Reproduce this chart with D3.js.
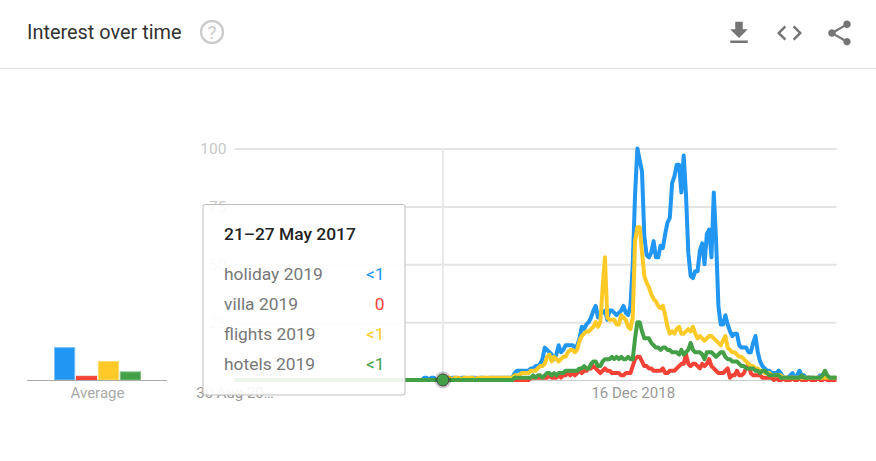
<!DOCTYPE html>
<html><head><meta charset="utf-8">
<script src="https://cdn.jsdelivr.net/npm/d3@7/dist/d3.min.js"></script>
<style>html,body{margin:0;padding:0;background:#fff}svg{display:block;font-family:Roboto,sans-serif}</style>
</head><body><svg id="c" width="876" height="461"></svg>
<script>
const seriesNames = ["holiday 2019","villa 2019","flights 2019","hotels 2019"];
const seriesColors = ["#2196f3","#f44336","#ffca28","#43a047"];
const avgBorders = ["#7cc0f8","#f44336","#ffdc70","#7fc083"];
const tooltipValues = ["<1","0","<1","<1"];
const averages = [14,1.6,8,3.5];
const yTicks = [0,25,50,75,100];
const xTickLabels = ["30 Aug 20…","16 Dec 2018"];
const xTickDates = [new Date(Date.UTC(2015,7,30)),new Date(Date.UTC(2018,11,16))];
const firstWeek = new Date(Date.UTC(2015,7,30));
const hoverWeek = new Date(Date.UTC(2017,4,21));

const holiday = [
0,0,0,0,0,0,0,0,0,0, 0,0,0,0,0,0,0,0,0,0, 0,0,0,0,0,0,0,0,0,0, 0,0,0,0,0,0,0,0,0,0,
0,0,0,0,0,0,0,0,0,0, 0,0,0,0,0,0,0,0,0,0, 0,0,0,0,0,0,0,0,0,0, 0,0,0,0,0,0,0,0,0,0,
0,0,1,1,0,1,1,0,0,0,
1,1,1,0,1,1,1,0,1,1,
1,0,1,1,1,0,1,1,1,0,
1,1,1,1,1,1,1,1,1,1,
1,3,4,4,4,4,4,4,5,5,
6,6,7,9,14,13,12,11,9,11,
15,12,13,15,15,15,15,14,15,18,
23,22,24,25,27,30,32,27,29,29,
30,26,30,30,29,28,29,30,32,29,
28,32,50,80,100,95,90,62,54,53,
55,60,53,53,58,57,63,68,70,85,
88,93,93,81,97,80,55,45,44,47,
47,56,59,50,63,65,53,81,60,32,
24,24,28,24,21,19,20,20,15,14,
14,14,12,12,16,19,12,8,6,5,
4,4,3,3,3,4,3,1,1,1,
2,3,1,2,4,2,2,1,1,1,
1,0,1,2,2,3,2,1,1,1,1];

const villa = [
0,0,0,0,0,0,0,0,0,0, 0,0,0,0,0,0,0,0,0,0, 0,0,0,0,0,0,0,0,0,0, 0,0,0,0,0,0,0,0,0,0,
0,0,0,0,0,0,0,0,0,0, 0,0,0,0,0,0,0,0,0,0, 0,0,0,0,0,0,0,0,0,0, 0,0,0,0,0,0,0,0,0,0,
0,0,0,0,0,0,0,0,0,0,
0,0,0,0,0,0,0,0,0,0,
0,0,0,0,0,0,0,0,0,0,
0,0,0,0,0,0,0,0,0,0,
0,0,0,0,0,0,0,0,1,1,
1,1,1,1,1,1,2,1,1,1,
2,1,2,2,3,2,3,2,3,4,
3,4,4,5,5,6,5,4,3,4,
5,4,4,3,3,3,3,2,2,3,
3,3,6,9,10,10,8,6,6,5,
5,4,4,4,4,5,3,3,4,4,
4,5,6,7,7,11,7,6,7,7,
6,5,7,6,7,9,6,5,4,3,
3,3,4,5,1,2,2,4,2,2,
3,5,7,3,2,2,2,2,1,1,
1,1,1,0,1,0,0,1,0,0,
0,1,0,0,1,0,0,0,1,0,
0,0,1,0,0,1,0,0,0,0,0];

const flights = [
0,0,0,0,0,0,0,0,0,0, 0,0,0,0,0,0,0,0,0,0, 0,0,0,0,0,0,0,0,0,0, 0,0,0,0,0,0,0,0,0,0,
0,0,0,0,0,0,0,0,0,0, 0,0,0,0,0,0,0,0,0,0, 0,0,0,0,0,0,0,0,0,0, 0,0,0,0,0,0,0,0,0,0,
0,0,0,0,0,0,0,0,0,0,
0,0,1,1,0,1,1,1,0,1,
1,1,1,1,0,1,1,1,1,1,
1,1,1,1,1,1,1,1,1,1,
1,2,2,2,3,3,3,3,4,4,
4,5,6,6,7,10,11,8,10,9,
8,9,10,10,12,13,13,12,13,17,
19,20,21,21,22,23,25,23,25,40,
53,27,26,26,26,24,24,28,27,26,
23,22,27,60,66,66,55,45,42,40,
37,35,34,32,31,32,28,23,20,21,
20,22,23,20,20,21,22,21,23,20,
18,19,18,17,18,19,19,18,17,16,
15,17,19,14,13,12,12,11,10,10,
9,8,7,6,6,5,5,4,4,3,
3,3,2,2,2,2,2,1,1,1,
1,1,1,1,1,1,1,1,1,1,
1,1,1,1,1,1,1,1,1,1,1];

const hotels = [
0,0,0,0,0,0,0,0,0,0, 0,0,0,0,0,0,0,0,0,0, 0,0,0,0,0,0,0,0,0,0, 0,0,0,0,0,0,0,0,0,0,
0,0,0,0,0,0,0,0,0,0, 0,0,0,0,0,0,0,0,0,0, 0,0,0,0,0,0,0,0,0,0, 0,0,0,0,0,0,0,0,0,0,
0,0,0,0,0,0,0,0,0,0,
0,0,0,0,0,0,0,0,0,0,
0,0,0,0,0,0,0,0,0,0,
0,0,0,0,0,0,0,0,0,0,
0,1,1,1,1,1,1,1,1,2,
1,2,2,1,2,3,3,2,3,2,
3,3,3,4,4,4,4,4,4,5,
5,6,5,5,7,8,8,6,6,8,
9,9,9,10,9,10,9,10,9,9,
10,9,9,18,25,25,21,18,18,18,
16,15,14,14,13,14,14,13,13,12,
12,12,11,13,11,12,13,16,13,12,
12,12,11,9,12,12,12,11,10,11,
12,12,10,9,9,8,8,8,7,6,
6,5,5,5,5,4,4,3,4,4,
3,2,2,2,2,2,1,1,1,1,
1,1,1,1,1,2,1,1,1,1,
1,1,1,1,2,4,2,1,1,1,1];

const allSeries = [holiday,villa,flights,hotels];
const svg = d3.select("#c");
const weeks = holiday.map((_,i)=>d3.utcWeek.offset(firstWeek,i));
const x = d3.scaleUtc().domain([firstWeek,weeks[weeks.length-1]]).range([234.5,836.5]);
const y = d3.scaleLinear().domain([0,100]).range([380,148.5]);

// header
svg.append("text").attr("x",27).attr("y",39).attr("font-size",19.9).attr("fill","#333").text("Interest over time");
svg.append("line").attr("x1",0).attr("x2",876).attr("y1",68.5).attr("y2",68.5).attr("stroke","#e0e0e0");
svg.append("circle").attr("cx",212).attr("cy",32).attr("r",11).attr("fill","none").attr("stroke","#ccc").attr("stroke-width",2.4);
svg.append("text").attr("x",212).attr("y",39).attr("text-anchor","middle").attr("font-size",19).attr("fill","#ccc").text("?");
const icons = [
 [739,"M19 9h-4V3H9v6H5l7 7 7-7zM5 18v2h14v-2H5z"],
 [789.5,"M9.4 16.6L4.8 12l4.6-4.6L8 6l-6 6 6 6 1.4-1.4zm5.2 0l4.6-4.6-4.6-4.6L16 6l6 6-6 6-1.4-1.4z"],
 [839.5,"M18 16.08c-.76 0-1.44.3-1.96.77L8.91 12.7c.05-.23.09-.46.09-.7s-.04-.47-.09-.7l7.05-4.11c.54.5 1.25.81 2.04.81 1.66 0 3-1.34 3-3s-1.34-3-3-3-3 1.34-3 3c0 .24.04.47.09.7L8.04 9.81C7.5 9.31 6.79 9 6 9c-1.66 0-3 1.34-3 3s1.34 3 3 3c.79 0 1.5-.31 2.04-.81l7.12 4.16c-.05.21-.08.43-.08.65 0 1.61 1.31 2.92 2.92 2.92 1.61 0 2.92-1.31 2.92-2.92s-1.31-2.92-2.92-2.92z"]];
icons.forEach(([cx,d])=>svg.append("path").attr("d",d).attr("fill","#757575")
  .attr("transform",`translate(${cx-15},18) scale(1.25)`));

// average bars
const avgX = d3.scaleBand().domain(seriesNames).range([54,141]).paddingInner(0.03);
svg.selectAll("rect.avg").data(averages).join("rect").attr("class","avg")
  .attr("x",(d,i)=>avgX(seriesNames[i])+0.5).attr("width",avgX.bandwidth()-1)
  .attr("y",d=>y(d)).attr("height",d=>y(0)-y(d))
  .attr("fill",(d,i)=>seriesColors[i]).attr("stroke",(d,i)=>avgBorders[i]);
svg.append("line").attr("x1",27).attr("x2",167).attr("y1",380.5).attr("y2",380.5).attr("stroke","#aaa").attr("stroke-width",1.2);
svg.append("text").attr("x",97.5).attr("y",398).attr("text-anchor","middle").attr("font-size",15).attr("fill","#aaa").text("Average");

// grid + axes
const gy = svg.append("g").attr("transform","translate(234.5,0)")
  .call(d3.axisLeft(y).tickValues(yTicks.slice(1)).tickSize(-602).tickPadding(8));
gy.select(".domain").remove();
gy.selectAll(".tick line").attr("stroke","#e4e4e4").attr("stroke-width",2);
gy.selectAll(".tick text").attr("fill","#c8c8c8").attr("font-size",15.5).attr("font-family","Roboto,sans-serif");
svg.append("line").attr("x1",234.5).attr("x2",836).attr("y1",380.5).attr("y2",380.5)
  .attr("stroke","#999").attr("stroke-dasharray","1 1");
svg.append("line").attr("x1",x(hoverWeek)).attr("x2",x(hoverWeek)).attr("y1",148.5).attr("y2",380)
  .attr("stroke","#e8e8e8").attr("stroke-width",2);

const gx = svg.append("g").attr("transform","translate(0,380)")
  .call(d3.axisBottom(x).tickValues(xTickDates).tickSize(0).tickPadding(7).tickFormat((d,i)=>xTickLabels[i]));
gx.select(".domain").remove();
gx.selectAll("text").attr("fill","#999").attr("font-size",15).attr("font-family","Roboto,sans-serif");

// faint note marker that sits under the tooltip
svg.append("text").attr("x",270).attr("y",376).attr("text-anchor","middle").attr("font-size",14).attr("fill","#999").text("Note");

// lines
const line = d3.line().x((d,i)=>x(weeks[i])).y(d=>y(d));
svg.selectAll("path.s").data(allSeries).join("path").attr("class","s")
  .attr("d",line).attr("fill","none").attr("stroke",(d,i)=>seriesColors[i])
  .attr("stroke-width",4).attr("stroke-linejoin","round");

// hover dot
svg.append("circle").attr("cx",x(hoverWeek)).attr("cy",y(0)).attr("r",8.5).attr("fill","#000").attr("opacity",0.2);
svg.append("circle").attr("cx",x(hoverWeek)).attr("cy",y(0)).attr("r",6).attr("fill","#43a047").attr("stroke","#444").attr("stroke-width",1);

// tooltip
svg.append("rect").attr("x",203).attr("y",204.5).attr("width",202).attr("height",190.5).attr("rx",2)
  .attr("fill","#fff").attr("fill-opacity",0.9).attr("stroke","#bdbdbd");
svg.append("text").attr("x",224).attr("y",240).attr("font-size",17.4).attr("font-weight",500).attr("fill","#222").text("21–27 May 2017");
const rowY = d3.scalePoint().domain(seriesNames).range([280,370]);
seriesNames.forEach((n,i)=>{
  svg.append("text").attr("x",224).attr("y",rowY(n)).attr("font-size",17.4).attr("fill","#777").text(n);
  svg.append("text").attr("x",384.5).attr("y",rowY(n)).attr("text-anchor","end").attr("font-size",17.4).attr("fill",seriesColors[i]).text(tooltipValues[i]);
});
</script></body></html>
